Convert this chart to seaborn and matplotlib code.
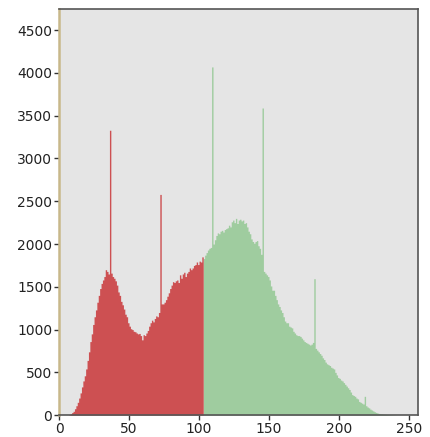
import numpy as np
import pandas as pd
import seaborn as sns
import matplotlib.pyplot as plt

# intensity histogram, one count per level 0..255
levels = list(range(256))
counts = [
    0, 0, 0, 0, 0, 0, 0, 5, 15, 30,
    45, 75, 110, 150, 200, 260, 330, 400, 460, 540,
    640, 740, 860, 950, 1060, 1150, 1230, 1320, 1400, 1480,
    1540, 1580, 1620, 1700, 1680, 1650, 3330, 1660, 1620, 1600,
    1570, 1520, 1440, 1400, 1330, 1290, 1240, 1180, 1150, 1080,
    1040, 1010, 1000, 980, 975, 960, 950, 955, 930, 880,
    940, 930, 960, 990, 1040, 1080, 1110, 1090, 1130, 1160,
    1150, 1200, 2580, 1300, 1300, 1320, 1350, 1390, 1430, 1480,
    1520, 1560, 1550, 1570, 1580, 1550, 1640, 1600, 1650, 1670,
    1620, 1660, 1680, 1720, 1700, 1720, 1750, 1760, 1790, 1760,
    1800, 1790, 1850, 1830, 1870, 1900, 1930, 1950, 1960, 4070,
    2000, 2050, 2100, 2130, 2120, 2150, 2160, 2140, 2170, 2180,
    2190, 2220, 2200, 2260, 2280, 2250, 2300, 2240, 2280, 2290,
    2270, 2280, 2240, 2250, 2200, 2150, 2120, 2060, 2030, 2010,
    2030, 2040, 1980, 1950, 1880, 3590, 1680, 1660, 1640, 1620,
    1580, 1510, 1460, 1460, 1400, 1350, 1300, 1270, 1230, 1200,
    1150, 1100, 1080, 1080, 1040, 1030, 1020, 980, 960, 940,
    930, 930, 920, 900, 880, 860, 850, 840, 830, 820,
    830, 850, 1595, 780, 760, 740, 720, 700, 670, 650,
    620, 600, 590, 580, 560, 550, 540, 500, 470, 440,
    430, 410, 400, 380, 360, 340, 320, 300, 270, 240,
    230, 220, 200, 190, 160, 150, 140, 130, 220, 110,
    95, 85, 70, 60, 50, 40, 32, 26, 20, 16,
    14, 12, 10, 8, 7, 6, 5, 4, 3, 2,
    1, 0, 0, 0, 0, 0, 0, 0, 0, 0,
    0, 0, 0, 0, 0, 0,
]
threshold = 103
x_ticks = [0, 50, 100, 150, 200, 250]
y_ticks = list(range(0, 5000, 500))

df = pd.DataFrame({"level": levels, "count": counts})
df["part"] = np.where(df["level"] < threshold, "low", "high")

sns.set_style("white", {"axes.facecolor": "#E5E5E5"})

fig = plt.figure(figsize=(4.31, 4.37), dpi=100)
ax = fig.add_axes([0.137, 0.050, 0.833, 0.929])

sns.histplot(data=df, x="level", weights="count", hue="part",
             bins=256, binrange=(0, 256), element="step", fill=True,
             palette={"low": "#CD5052", "high": "#9FCC9F"},
             alpha=1, linewidth=0, legend=False, ax=ax)

ax.set_xlim(0, 256.5)
ax.set_ylim(0, 4745)
ax.set_xticks(x_ticks)
ax.set_yticks(y_ticks)
ax.set_xlabel("")
ax.set_ylabel("")
ax.tick_params(axis="both", left=True, bottom=True, direction="out",
               length=3.5, width=1, color="#333333", labelsize=10,
               labelcolor="#222222", pad=1.5)

for side in ["top", "right", "bottom"]:
    ax.spines[side].set_color("#555555")
    ax.spines[side].set_linewidth(1.2)
ax.spines["left"].set_color("#C8B88A")
ax.spines["left"].set_linewidth(1.8)

fig.savefig("out.png", dpi=100)
